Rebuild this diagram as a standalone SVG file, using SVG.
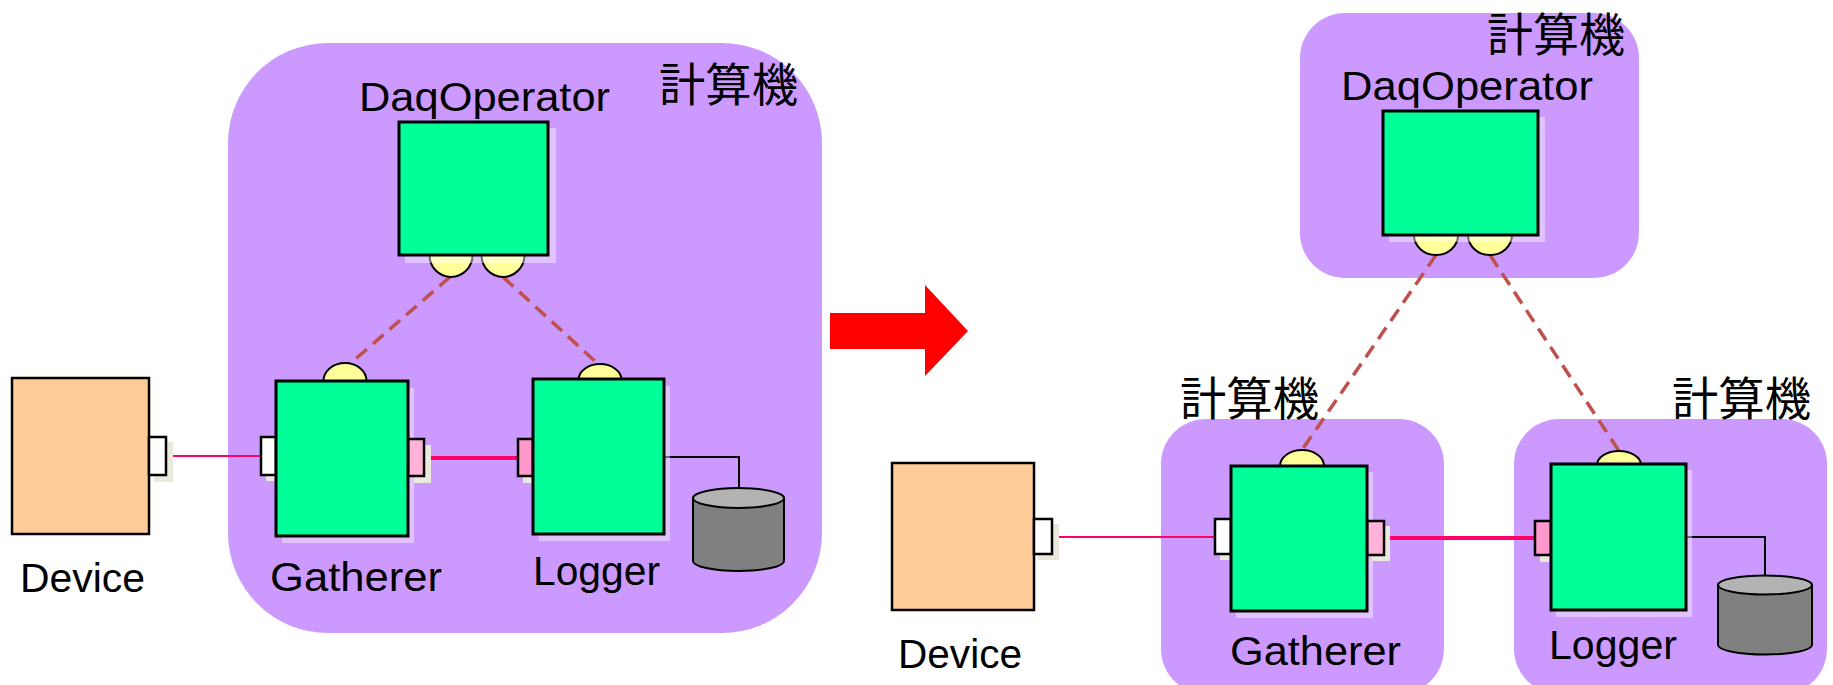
<svg xmlns="http://www.w3.org/2000/svg" width="1833" height="685" viewBox="0 0 1833 685">
<style>
.pc{fill:#cc99ff}
.box{fill:#00ff99;stroke:#000;stroke-width:3}
.sh{fill:#ffffff;fill-opacity:0.42}
.psh{fill:#ebe8de}
.dev{fill:#ffcc99;stroke:#000;stroke-width:2.5}
.port{fill:#ffffff;stroke:#000;stroke-width:2.5}
.pin{fill:#ff99cc;stroke:#000;stroke-width:2.5}
.pout{fill:#ffb3d9;stroke:#000;stroke-width:2.5}
.svc{fill:#ffff99;stroke:#000;stroke-width:2}
.lbl{font-family:"Liberation Sans",Arial,sans-serif;font-size:40px;fill:#000}
.cjk{font-family:"Noto Sans CJK JP","Noto Sans CJK SC",sans-serif;font-size:46px;fill:#000}
.dash{stroke:#c0504d;stroke-width:3.5;stroke-dasharray:14 8;fill:none}
.thin{stroke:#ff0066;stroke-width:2;fill:none}
.thick{stroke:#ff0066;stroke-width:4;fill:none}
.wire{stroke:#000;stroke-width:2;fill:none}
.cylb{fill:#808080;stroke:#000;stroke-width:2}
.cylt{fill:#b3b3b3;stroke:#000;stroke-width:2}
</style>

<!-- computer containers -->
<g id="computer-left">
<rect class="pc" x="228" y="43" width="594" height="590" rx="100" ry="100"/>
<text class="cjk" x="659" y="101" textLength="139" lengthAdjust="spacingAndGlyphs">計算機</text>
</g>
<g id="computer-right-operator">
<rect class="pc" x="1300" y="13" width="339" height="265" rx="45" ry="45"/>
<text class="cjk" x="1487" y="51" textLength="138" lengthAdjust="spacingAndGlyphs">計算機</text>
</g>
<g id="computer-right-gatherer">
<rect class="pc" x="1161" y="419" width="283" height="275" rx="45" ry="45"/>
<text class="cjk" x="1180" y="415" textLength="139" lengthAdjust="spacingAndGlyphs">計算機</text>
</g>
<g id="computer-right-logger">
<rect class="pc" x="1514" y="419" width="313" height="275" rx="45" ry="45"/>
<text class="cjk" x="1672" y="415" textLength="139" lengthAdjust="spacingAndGlyphs">計算機</text>
</g>

<!-- connectors -->
<g id="connectors">
<line class="dash" x1="450" y1="277" x2="352" y2="362"/>
<line class="dash" x1="503" y1="277" x2="597" y2="363"/>
<line class="thin" x1="166" y1="456" x2="261" y2="456"/>
<line class="thick" x1="424" y1="458" x2="518" y2="458"/>
<polyline class="wire" points="664,457 739,457 739,488"/>
<line class="dash" x1="1436" y1="255" x2="1302" y2="450"/>
<line class="dash" x1="1490" y1="255" x2="1619" y2="451"/>
<line class="thin" x1="1052" y1="537" x2="1215" y2="537"/>
<line class="thick" x1="1384" y1="538" x2="1535" y2="538"/>
<polyline class="wire" points="1686,537 1765,537 1765,576"/>
</g>

<!-- left side nodes -->
<g id="device-left">
<rect class="psh" x="154" y="442" width="19" height="40"/>
<rect class="dev" x="12" y="378" width="137" height="156"/>
<rect class="port" x="149" y="437" width="17" height="38"/>
<text class="lbl" x="20" y="592" textLength="125" lengthAdjust="spacingAndGlyphs">Device</text>
</g>

<g id="daqoperator-left">
<text class="lbl" x="359" y="111" textLength="251" lengthAdjust="spacingAndGlyphs">DaqOperator</text>
<ellipse class="svc" cx="451" cy="255" rx="21.5" ry="22"/>
<ellipse class="svc" cx="503" cy="255" rx="21.5" ry="22"/>
<rect class="sh" x="405" y="128" width="151" height="135"/>
<rect class="box" x="399" y="122" width="149" height="133"/>
</g>

<g id="gatherer-left">
<ellipse class="svc" cx="345" cy="381" rx="21.5" ry="18"/>
<rect class="sh" x="282" y="388" width="132" height="155"/>
<rect class="psh" x="266" y="443" width="15" height="38"/>
<rect class="psh" x="414" y="445" width="17" height="38"/>
<rect class="port" x="261" y="437" width="15" height="38"/>
<rect class="pout" x="408" y="439" width="16" height="37"/>
<rect class="box" x="276" y="381" width="132" height="155"/>
<text class="lbl" x="270" y="591" textLength="172" lengthAdjust="spacingAndGlyphs">Gatherer</text>
</g>

<g id="logger-left">
<ellipse class="svc" cx="600" cy="380" rx="21.5" ry="16"/>
<rect class="sh" x="539" y="386" width="131" height="155"/>
<rect class="psh" x="523" y="445" width="15" height="38"/>
<rect class="pin" x="518" y="439" width="15" height="37"/>
<rect class="box" x="533" y="379" width="131" height="155"/>
<text class="lbl" x="533" y="585" textLength="127" lengthAdjust="spacingAndGlyphs">Logger</text>
</g>

<g id="disk-left">
<path class="cylb" d="M693,498 L693,561 A45.5,10 0 0 0 784,561 L784,498 Z"/>
<ellipse class="cylt" cx="738.5" cy="498" rx="45.5" ry="10"/>
</g>

<!-- transition arrow -->
<g id="arrow">
<polygon points="830,313 925,313 925,285 968,331 925,376 925,349 830,349" fill="#ff0000"/>
</g>

<!-- right side nodes -->
<g id="device-right">
<rect class="psh" x="1038" y="524" width="21" height="36"/>
<rect class="dev" x="892" y="463" width="142" height="147"/>
<rect class="port" x="1034" y="519" width="18" height="35"/>
<text class="lbl" x="898" y="668" textLength="124" lengthAdjust="spacingAndGlyphs">Device</text>
</g>

<g id="daqoperator-right">
<text class="lbl" x="1341" y="100" textLength="252" lengthAdjust="spacingAndGlyphs">DaqOperator</text>
<ellipse class="svc" cx="1436" cy="235" rx="22" ry="20"/>
<ellipse class="svc" cx="1490" cy="235" rx="22" ry="20"/>
<rect class="sh" x="1389" y="117" width="156" height="125"/>
<rect class="box" x="1383" y="111" width="155" height="124"/>
</g>

<g id="gatherer-right">
<ellipse class="svc" cx="1302" cy="466" rx="22" ry="16"/>
<rect class="sh" x="1236" y="472" width="137" height="146"/>
<rect class="psh" x="1220" y="525" width="15" height="35"/>
<rect class="psh" x="1372" y="526" width="18" height="35"/>
<rect class="port" x="1215" y="519" width="16" height="35"/>
<rect class="pout" x="1367" y="521" width="17" height="34"/>
<rect class="box" x="1231" y="466" width="136" height="145"/>
<text class="lbl" x="1230" y="665" textLength="171" lengthAdjust="spacingAndGlyphs">Gatherer</text>
</g>

<g id="logger-right">
<ellipse class="svc" cx="1619" cy="465" rx="22" ry="14"/>
<rect class="sh" x="1556" y="470" width="136" height="147"/>
<rect class="psh" x="1540" y="527" width="16" height="35"/>
<rect class="pin" x="1535" y="521" width="16" height="34"/>
<rect class="box" x="1551" y="464" width="135" height="146"/>
<text class="lbl" x="1549" y="659" textLength="128" lengthAdjust="spacingAndGlyphs">Logger</text>
</g>

<g id="disk-right">
<path class="cylb" d="M1718,585 L1718,645 A47,9.5 0 0 0 1812,645 L1812,585 Z"/>
<ellipse class="cylt" cx="1765" cy="585" rx="47" ry="9.5"/>
</g>
</svg>
